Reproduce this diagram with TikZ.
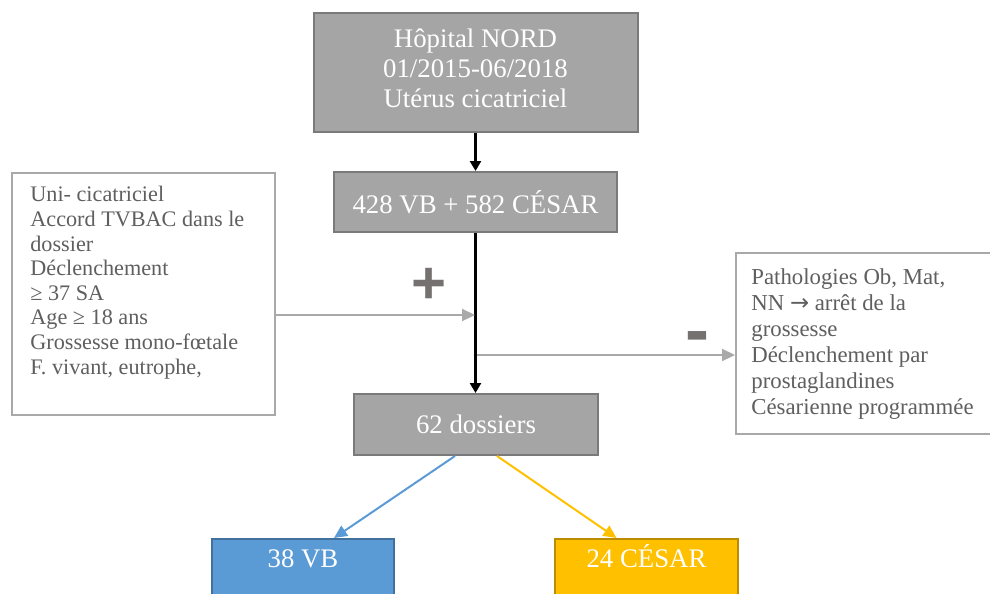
\documentclass[tikz,border=0pt]{standalone}
\usepackage{fontspec}
\setmainfont{Liberation Serif}
\newfontfamily\signfont{Liberation Sans}
\newfontfamily\arrowfont{DejaVu Sans}
\usetikzlibrary{arrows.meta}

\definecolor{boxgray}{HTML}{A5A5A5}
\definecolor{grayedge}{HTML}{7A7A7A}
\definecolor{critedge}{HTML}{A9A9A9}
\definecolor{crittxt}{HTML}{5F5F5F}
\definecolor{signgray}{HTML}{767171}
\definecolor{vbfill}{HTML}{5B9BD5}
\definecolor{vbedge}{HTML}{41719C}
\definecolor{cesarfill}{HTML}{FFC000}
\definecolor{cesaredge}{HTML}{BC8C00}

\tikzset{
  graybox/.style={draw=grayedge, fill=boxgray, line width=1pt, text=white,
    align=center, font=\fontsize{13.4}{15}\selectfont},
  critbox/.style={draw=critedge, fill=white, line width=1pt},
  crittext/.style={text=crittxt, align=left, inner sep=0pt, anchor=north west},
  endbox/.style={line width=1pt, text=white, anchor=north, inner ysep=0pt,
    text height=14pt, text depth=26pt, font=\fontsize{13.4}{15}\selectfont},
  signstyle/.style={text=signgray, font=\signfont\bfseries\fontsize{30}{30}\selectfont, inner sep=0pt},
  blackarrow/.style={line width=1.2pt, -{Triangle[length=5pt, width=5.5pt]}},
  grayarrow/.style={critedge, line width=1.1pt, -{Triangle[length=6.5pt, width=6pt]}}
}

\begin{document}
\begin{tikzpicture}[x=0.5pt, y=-0.5pt]
\useasboundingbox (0,0) rectangle (990,594);
\clip (0,0) rectangle (990,594);

% main column
\node[graybox, minimum width=162pt, minimum height=59.5pt] (hopital) at (475.5,72.5)
  {Hôpital NORD\\01/2015-06/2018\\Utérus cicatriciel\\[-11pt]};
\node[graybox, minimum width=141.5pt, minimum height=30pt] (total) at (475.5,202)
  {428 VB + 582 CÉSAR};
\node[graybox, minimum width=122pt, minimum height=30.5pt] (dossiers) at (476,424.5)
  {62 dossiers};

% criteria
\node[critbox, minimum width=131.5pt, minimum height=121pt] (incl) at (143.5,294) {};
\node[crittext, font=\fontsize{11.1}{12.3}\selectfont] (incltext) at (30,186)
  {Uni- cicatriciel\\Accord TVBAC dans le\\dossier\\Déclenchement\\≥ 37 SA\\Age ≥ 18 ans\\Grossesse mono-fœtale\\F. vivant, eutrophe,};
\node[critbox, minimum width=129.5pt, minimum height=90.5pt] (excl) at (865.5,343.5) {};
\node[crittext, font=\fontsize{11.4}{13}\selectfont] (excltext) at (751,268)
  {Pathologies Ob, Mat,\\NN {\arrowfont→} arrêt de la\\grossesse\\Déclenchement par\\prostaglandines\\Césarienne programmée};

\node[signstyle] (plus) at (429,286) {+};
\node[signstyle, font=\signfont\bfseries\fontsize{36}{36}\selectfont] (minus) at (697,343) {-};

% outcomes
\node[endbox, draw=vbedge, fill=vbfill, minimum width=91pt] (vb) at (303,538) {38 VB};
\node[endbox, draw=cesaredge, fill=cesarfill, minimum width=91.5pt] (cesar) at (646.5,538) {24 CÉSAR};

\coordinate (plusjoin) at (475,315);
\coordinate (minusjoin) at (477,355);

\draw[blackarrow] (hopital.south) -- (hopital.south |- total.north);
\draw[blackarrow] (total.south) -- (total.south |- dossiers.north);
\draw[grayarrow] (incl.east |- plusjoin) -- (plusjoin);
\draw[grayarrow] (minusjoin) -- (excl.west |- minusjoin);
\draw[vbfill, line width=1pt, -{Triangle[length=6.5pt, width=6pt]}]
  ([xshift=-10.5pt]dossiers.south) -- ([xshift=15.5pt]vb.north);
\draw[cesarfill, line width=1pt, -{Triangle[length=6.5pt, width=6pt]}]
  ([xshift=10.5pt]dossiers.south) -- ([xshift=-15pt]cesar.north);

\end{tikzpicture}
\end{document}
